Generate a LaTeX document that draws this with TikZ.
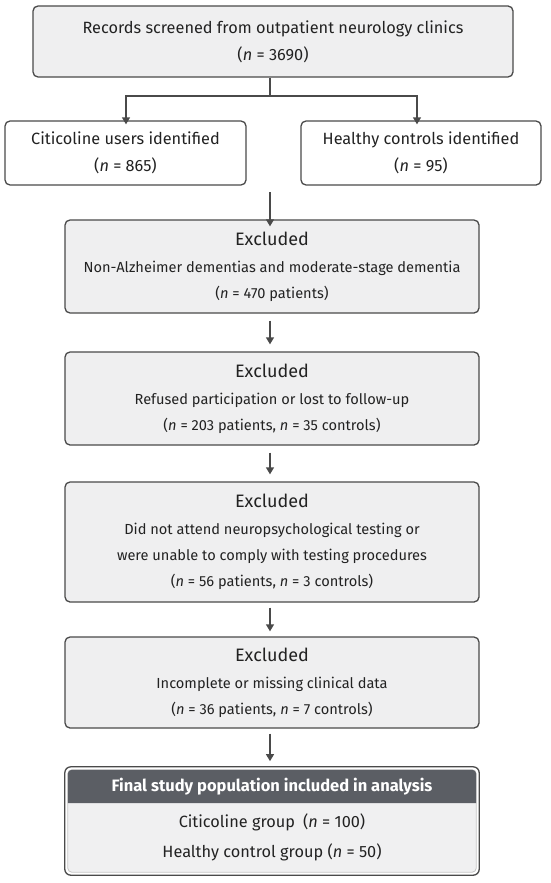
\documentclass[tikz,border=0pt]{standalone}
\usepackage{fontspec}
\setmainfont{Fira Sans}
\usetikzlibrary{arrows.meta,backgrounds,fit,calc}
\definecolor{boxfill}{HTML}{EFEFF0}
\definecolor{boxline}{HTML}{4A4A4A}
\definecolor{txt}{HTML}{222222}
\definecolor{headfill}{HTML}{5B5E64}
\definecolor{bodyfill}{HTML}{F0F0F1}
\tikzset{
  box/.style={draw=boxline, line width=1.3pt, rounded corners=5pt, fill=boxfill, align=center, text=txt, font=\fontsize{16.3}{27}\selectfont, inner sep=0pt},
  wbox/.style={box, fill=white},
  exbox/.style={box, minimum width=414pt, font=\fontsize{14.6}{26}\selectfont},
  arr/.style={draw=boxline, line width=1.3pt, -{Triangle[width=8pt,length=7pt]}},
  conn/.style={draw=boxline, line width=1.3pt}
}
\newcommand{\nn}{\textit{n}}
\newcommand{\exhead}[1]{{\fontsize{18}{27}\selectfont #1}}
\begin{document}
\begin{tikzpicture}[x=1pt,y=-1pt]
\useasboundingbox (0,0) rectangle (550,883);
\node[box, minimum width=480pt, minimum height=71pt] (top) at (273,41.5)
  {Records screened from outpatient neurology clinics\\(\nn{} = 3690)};
\node[wbox, minimum width=241pt, minimum height=64pt] (left) at (125.5,153)
  {Citicoline users identified\\(\nn{} = 865)};
\node[wbox, minimum width=240pt, minimum height=64pt] (right) at (421,153)
  {Healthy controls identified\\(\nn{} = 95)};
\node[exbox, minimum height=93pt] (ex1) at (272,266.5)
  {\exhead{Excluded}\\[1pt]Non-Alzheimer dementias and moderate-stage dementia\\(\nn{} = 470 patients)};
\node[exbox, minimum height=93pt] (ex2) at (272,398.5)
  {\exhead{Excluded}\\[1pt]Refused participation or lost to follow-up\\(\nn{} = 203 patients, \nn{} = 35 controls)};
\node[exbox, minimum height=120pt] (ex3) at (272,542)
  {\exhead{Excluded}\\[1pt]Did not attend neuropsychological testing or\\were unable to comply with testing procedures\\(\nn{} = 56 patients, \nn{} = 3 controls)};
\node[exbox, minimum height=91pt] (ex4) at (272,682.5)
  {\exhead{Excluded}\\[1pt]Incomplete or missing clinical data\\(\nn{} = 36 patients, \nn{} = 7 controls)};
% final box
\node[minimum width=408pt, minimum height=33pt, inner sep=0pt, text=white, font=\fontsize{16.5}{20}\selectfont\bfseries] (fhead) at (272,786.5)
  {Final study population included in analysis};
\node[minimum width=408pt, minimum height=69pt, inner sep=0pt, align=center, text=txt, font=\fontsize{16.3}{30}\selectfont] (fbody) at (272,837.5)
  {Citicoline group\enspace(\nn{} = 100)\\Healthy control group (\nn{} = 50)};
\node[fit=(fhead)(fbody), inner sep=3pt, draw=boxline, line width=1.3pt, rounded corners=6pt] (final) {};
\begin{scope}[on background layer]
  \fill[white] (0,0) rectangle (550,883);
  \filldraw[fill=bodyfill, draw=gray!45, line width=0.8pt, rounded corners=4pt] (fhead.north west) rectangle (fbody.south east);
  \fill[headfill] (fhead.south west) [rounded corners=4pt] -- (fhead.north west) -- (fhead.north east) [sharp corners] -- (fhead.south east) -- cycle;
\end{scope}
% connectors
\coordinate (split) at (270,96);
\draw[conn] (top.south -| split) -- (split);
\draw[arr] (split) -| ([yshift=-4pt]left.north -| 126,0);
\draw[arr] (split) -| ([yshift=-4pt]right.north -| 417,0);
\coordinate (join) at (270,192);
\draw[arr] (join) -- ([yshift=-7pt]ex1.north -| join);
\draw[arr, shorten <=7pt, shorten >=7pt] (ex1.south -| join) -- (ex2.north -| join);
\draw[arr, shorten <=7pt, shorten >=7pt] (ex2.south -| join) -- (ex3.north -| join);
\draw[arr, shorten <=5pt, shorten >=5pt] (ex3.south -| join) -- (ex4.north -| join);
\draw[arr, shorten <=5pt, shorten >=5pt] (ex4.south -| join) -- (final.north -| join);
\end{tikzpicture}
\end{document}
